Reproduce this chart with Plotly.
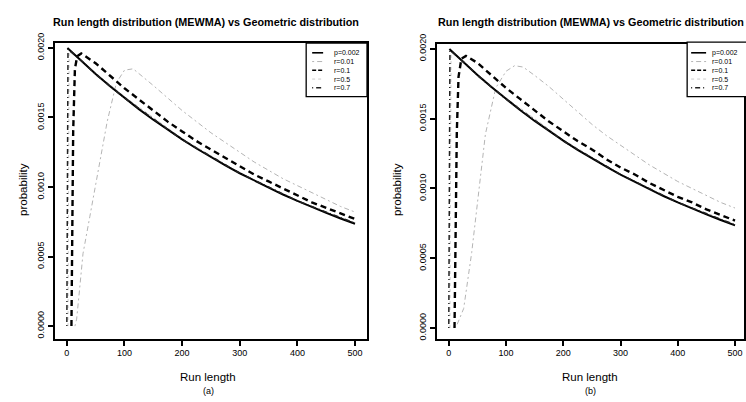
import plotly.graph_objects as go

W, H = 746, 402

# ---------------- data ----------------
names = ["p=0.002", "r=0.01", "r=0.1", "r=0.5", "r=0.7"]

x_geo = [1, 25, 50, 75, 100, 125, 150, 175, 200, 225, 250, 275, 300, 325, 350, 375, 400, 425, 450, 475, 500]
y_geo = [0.00200, 0.001906, 0.001813, 0.001725, 0.001640, 0.001560, 0.001484, 0.001412, 0.001343, 0.001277,
         0.001215, 0.001156, 0.001099, 0.001046, 0.000995, 0.000946, 0.000900, 0.000856, 0.000814, 0.000774, 0.000736]

# panel (a)
x_r001_a = [14, 17, 22, 28, 40, 55, 70, 86, 100, 115, 130, 150, 175, 200, 225, 250, 275, 300, 325, 350, 375, 400, 425, 450, 475, 500]
y_r001_a = [0.0, 0.00005, 0.00026, 0.00052, 0.00079, 0.00113, 0.00147, 0.00175, 0.00184, 0.00185, 0.00180, 0.00173,
            0.00164, 0.00155, 0.00147, 0.00139, 0.00132, 0.00125, 0.00118, 0.00112, 0.00106, 0.00101, 0.00096,
            0.00091, 0.00086, 0.00082]
x_r01_a = [8, 9, 11, 14, 18, 25, 50, 75, 100, 125, 150, 175, 200, 225, 250, 275, 300, 325, 350, 375, 400, 425, 450, 475, 500]
y_r01_a = [0.0, 0.0006, 0.0014, 0.00185, 0.00194, 0.00196, 0.00189, 0.00180, 0.00171, 0.00163, 0.00155, 0.00147,
           0.00140, 0.00133, 0.00127, 0.00121, 0.00115, 0.00109, 0.00104, 0.00099, 0.00094, 0.00089, 0.00085,
           0.00081, 0.00077]
x_r05_a = [2, 3, 4, 25, 50, 100, 200, 300, 400, 500]
y_r05_a = [0.0, 0.0010, 0.00198, 0.00191, 0.00182, 0.00165, 0.00135, 0.00110, 0.00090, 0.00074]
x_r07_a = [0, 1, 2, 25, 50, 100, 200, 300, 400, 500]
y_r07_a = [0.0, 0.0010, 0.00199, 0.00191, 0.00181, 0.00164, 0.00134, 0.00110, 0.00090, 0.00074]

# panel (b)
x_r001_b = [9, 14, 18, 26, 40, 47, 64, 82, 100, 115, 130, 150, 175, 200, 225, 250, 275, 300, 325, 350, 375, 400, 425, 450, 475, 500]
y_r001_b = [0.0, 0.00002, 0.00006, 0.00014, 0.00054, 0.00079, 0.00139, 0.00172, 0.00184, 0.00188, 0.00187, 0.00181,
            0.00173, 0.00164, 0.00155, 0.00146, 0.00138, 0.00131, 0.00124, 0.00117, 0.00111, 0.00105, 0.00100,
            0.00095, 0.00090, 0.00086]
x_r01_b = [10, 12, 14, 17, 22, 30, 50, 75, 100, 125, 150, 175, 200, 225, 250, 275, 300, 325, 350, 375, 400, 425, 450, 475, 500]
y_r01_b = [0.0, 0.0007, 0.0014, 0.0018, 0.00193, 0.00195, 0.00190, 0.00181, 0.00172, 0.00164, 0.00156, 0.00148,
           0.00141, 0.00134, 0.00128, 0.00121, 0.00115, 0.00110, 0.00104, 0.00099, 0.00094, 0.00090, 0.00085,
           0.00081, 0.00077]
x_r05_b = [2, 3, 4, 25, 50, 100, 200, 300, 400, 500]
y_r05_b = [0.0, 0.0010, 0.00198, 0.00191, 0.00182, 0.00165, 0.00135, 0.00110, 0.00090, 0.00074]
x_r07_b = [0, 1, 2, 25, 50, 100, 200, 300, 400, 500]
y_r07_b = [0.0, 0.0010, 0.00199, 0.00191, 0.00181, 0.00164, 0.00134, 0.00110, 0.00090, 0.00074]

x_ticks = [0, 100, 200, 300, 400, 500]
y_ticks = [0.0, 0.0005, 0.0010, 0.0015, 0.0020]
y_ticktext = ["0.0000", "0.0005", "0.0010", "0.0015", "0.0020"]

title_text = "Run length distribution (MEWMA) vs Geometric distribution"
xlab = "Run length"
ylab = "probability"
panel_labels = ["(a)", "(b)"]

# ---------------- styles ----------------
FONT = "Liberation Sans, Arial, Helvetica, sans-serif"
styles = {
    "p=0.002": dict(color="black", width=2.0, dash="solid"),
    "r=0.01": dict(color="#b4b4b4", width=1.0, dash="2px,3px,5px,3px"),
    "r=0.1": dict(color="black", width=2.4, dash="6px,4px"),
    "r=0.5": dict(color="#cccccc", width=1.0, dash="dot"),
    "r=0.7": dict(color="#222222", width=1.5, dash="1px,3px,5px,3px"),
}


def px_x(p):
    return p / W


def px_y(p):
    return 1 - p / H


fig = go.Figure()

panels = [
    dict(xa="x", ya="y",
         series={"r=0.01": (x_r001_a, y_r001_a), "r=0.5": (x_r05_a, y_r05_a), "p=0.002": (x_geo, y_geo),
                 "r=0.1": (x_r01_a, y_r01_a), "r=0.7": (x_r07_a, y_r07_a)}),
    dict(xa="x2", ya="y2",
         series={"r=0.01": (x_r001_b, y_r001_b), "r=0.5": (x_r05_b, y_r05_b), "p=0.002": (x_geo, y_geo),
                 "r=0.1": (x_r01_b, y_r01_b), "r=0.7": (x_r07_b, y_r07_b)}),
]

for p in panels:
    for nm, (xs, ys) in p["series"].items():
        fig.add_trace(go.Scatter(x=xs, y=ys, mode="lines", name=nm, line=styles[nm],
                                 xaxis=p["xa"], yaxis=p["ya"], showlegend=False, hoverinfo="skip"))

axis_common = dict(showline=True, mirror=True, linecolor="black", linewidth=1.8, showgrid=False,
                   zeroline=False, ticks="outside", ticklen=5, tickwidth=1.8, tickcolor="black",
                   tickfont=dict(family=FONT, size=9, color="black"))

fig.update_layout(
    width=W, height=H, margin=dict(l=0, r=0, t=0, b=0),
    paper_bgcolor="white", plot_bgcolor="white", showlegend=False,
    xaxis=dict(domain=[px_x(55), px_x(368)], range=[-20.8, 520.8], tickvals=x_ticks, anchor="y", **axis_common),
    yaxis=dict(domain=[px_y(338), px_y(34)], range=[-0.000091, 0.002035], tickvals=y_ticks, ticktext=y_ticktext,
               tickangle=-90, anchor="x", **axis_common),
    xaxis2=dict(domain=[px_x(438), 1.0], range=[-20.9, 515.7], tickvals=x_ticks, anchor="y2", **axis_common),
    yaxis2=dict(domain=[px_y(338), px_y(35)], range=[-0.0000767, 0.002035], tickvals=y_ticks, ticktext=y_ticktext,
                tickangle=-90, anchor="x2", **axis_common),
)

ann = []
shapes = []
for i, off in enumerate([0, 386]):
    ann.append(dict(text="<b>" + title_text + "</b>", x=px_x(207 + off), y=px_y(12), xref="paper", yref="paper",
                    showarrow=False, xanchor="center", yanchor="middle", font=dict(family=FONT, size=10.8, color="black")))
    ann.append(dict(text=xlab, x=px_x(209 + (383 if i else 0)), y=px_y(377), xref="paper", yref="paper", showarrow=False,
                    xanchor="center", yanchor="middle", font=dict(family=FONT, size=11.5, color="black")))
    ann.append(dict(text=panel_labels[i], x=px_x(209 + (383 if i else 0)), y=px_y(392), xref="paper", yref="paper", showarrow=False,
                    xanchor="center", yanchor="middle", font=dict(family=FONT, size=9, color="black")))
    ann.append(dict(text=ylab, x=px_x(23 + (375 if i else 0)), y=px_y(184), xref="paper", yref="paper", showarrow=False,
                    textangle=-90, xanchor="center", yanchor="middle", font=dict(family=FONT, size=11.5, color="black")))

# manual legends
legends = [dict(box=(307, 34, 368, 89), line=(313, 324), text=333),
           dict(box=(689, 33, 760, 89), line=(693, 708), text=712)]
entry_y = [44, 53, 62, 71, 80]
for lg in legends:
    x0, y0, x1, y1 = lg["box"]
    shapes.append(dict(type="rect", xref="paper", yref="paper", x0=px_x(x0), x1=px_x(x1), y0=px_y(y1), y1=px_y(y0),
                       line=dict(color="black", width=1.3), fillcolor="white", layer="above"))
    for nm, yy in zip(names, entry_y):
        st = styles[nm]
        shapes.append(dict(type="line", xref="paper", yref="paper", x0=px_x(lg["line"][0]), x1=px_x(lg["line"][1]),
                           y0=px_y(yy), y1=px_y(yy), layer="above",
                           line=dict(color=st["color"], width=min(st["width"], 1.6), dash=st["dash"] if st["dash"] != "6px,4px" else "4px,2px")))
        ann.append(dict(text=nm, x=px_x(lg["text"]), y=px_y(yy), xref="paper", yref="paper", showarrow=False,
                        xanchor="left", yanchor="middle", font=dict(family=FONT, size=7, color="black")))

fig.update_layout(annotations=ann, shapes=shapes)
fig.write_html("out.html")
